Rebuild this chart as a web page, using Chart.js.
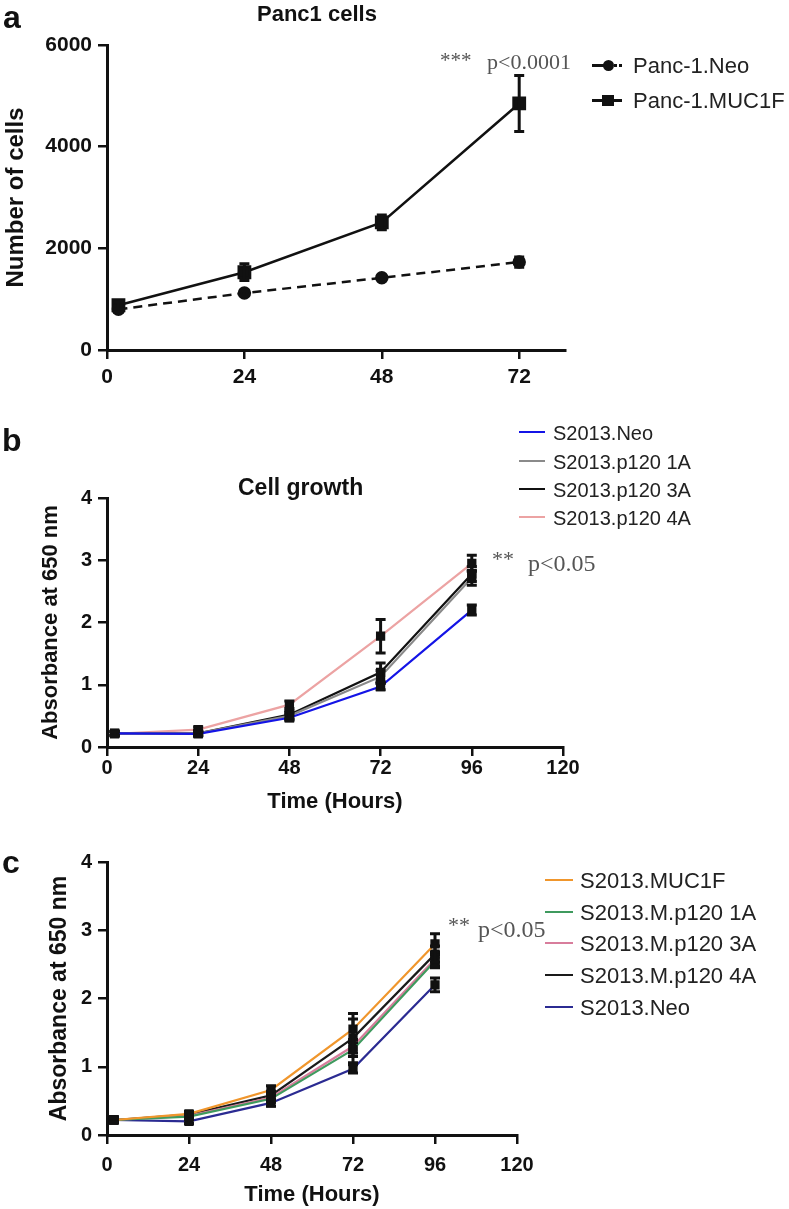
<!DOCTYPE html>
<html>
<head>
<meta charset="utf-8">
<script src="https://cdn.jsdelivr.net/npm/chart.js@4.4.1/dist/chart.umd.min.js"></script>
<style>
  body { margin: 0; background: #fff; width: 789px; height: 1209px; position: relative; overflow: hidden;
         font-family: "Liberation Sans", Arial, sans-serif; color: #111; }
  canvas { position: absolute; left: 0; }
  .t { position: absolute; white-space: nowrap; line-height: 1; transform: translateY(-50%); }
  .b { font-weight: bold; }
  .serif { font-family: "Liberation Serif", "Times New Roman", serif; color: #555; }
  .sw { position: absolute; height: 0; }
  .mk { position: absolute; background: #111; }
</style>
</head>
<body>
<canvas id="chartA" width="789" height="400" style="top:0"></canvas>
<canvas id="chartB" width="789" height="420" style="top:400px"></canvas>
<canvas id="chartC" width="789" height="389" style="top:820px"></canvas>

<!-- panel a labels -->
<div class="t b" style="left:3px;top:17px;font-size:32px">a</div>
<div class="t b" style="left:257px;top:14px;font-size:22px">Panc1 cells</div>
<div class="t serif" style="left:440px;top:60px;font-size:21px">***</div>
<div class="t serif" style="left:487px;top:62px;font-size:22px">p&lt;0.0001</div>
<div class="sw" style="left:592px;top:64px;width:16px;border-top:3px solid #111"></div>
<div class="sw" style="left:609px;top:64px;width:13px;border-top:3px dotted #111"></div>
<div class="mk" style="left:603px;top:60px;width:11px;height:11px;border-radius:50%"></div>
<div class="t" style="left:633px;top:66px;font-size:22px;color:#222">Panc-1.Neo</div>
<div class="sw" style="left:592px;top:99px;width:30px;border-top:3px solid #111"></div>
<div class="mk" style="left:602px;top:95px;width:12px;height:11px"></div>
<div class="t" style="left:633px;top:101px;font-size:22px;color:#222">Panc-1.MUC1F</div>

<!-- panel b labels -->
<div class="t b" style="left:2px;top:440px;font-size:32px">b</div>
<div class="t b" style="left:238px;top:487px;font-size:23px">Cell growth</div>
<div id="legendB"></div>
<div class="t serif" style="left:492px;top:559px;font-size:22px">**</div>
<div class="t serif" style="left:528px;top:563px;font-size:24px">p&lt;0.05</div>

<!-- panel c labels -->
<div class="t b" style="left:2px;top:862px;font-size:32px">c</div>
<div id="legendC"></div>
<div class="t serif" style="left:448px;top:925px;font-size:22px">**</div>
<div class="t serif" style="left:478px;top:929px;font-size:24px">p&lt;0.05</div>

<script>
// ---- panel a: Panc1 cells ----
const hoursA = [2, 24, 48, 72];
const xTicksA = [0, 24, 48, 72];
const panc1Neo = [800, 1120, 1420, 1730];
const panc1NeoErr = [60, 50, 40, 100];
const panc1Muc = [880, 1530, 2510, 4850];
const panc1MucErr = [70, 165, 145, 550];

// ---- panel b: S2013 p120 ----
const hoursBC = [2, 24, 48, 72, 96];
const xTicksBC = [0, 24, 48, 72, 96, 120];
const bNames = ['S2013.Neo', 'S2013.p120 1A', 'S2013.p120 3A', 'S2013.p120 4A'];
const bColors = ['#1414e6', '#8a8a8a', '#111111', '#eca3a3'];
const bNeo = [0.22, 0.21, 0.47, 0.97, 2.2];
const bNeoErr = [0.03, 0.03, 0.05, 0.05, 0.08];
const b1A = [0.22, 0.22, 0.5, 1.13, 2.72];
const b1AErr = [0.03, 0.03, 0.06, 0.1, 0.12];
const b3A = [0.22, 0.22, 0.52, 1.2, 2.78];
const b3AErr = [0.03, 0.04, 0.06, 0.15, 0.12];
const b4A = [0.21, 0.28, 0.68, 1.78, 2.95];
const b4AErr = [0.03, 0.04, 0.06, 0.27, 0.13];

// ---- panel c: S2013 MUC1F p120 ----
const cNames = ['S2013.MUC1F', 'S2013.M.p120 1A', 'S2013.M.p120 3A', 'S2013.M.p120 4A', 'S2013.Neo'];
const cColors = ['#f0962c', '#3f9a5e', '#d87d9c', '#1a1a1a', '#2b2b92'];
const cMuc = [0.22, 0.31, 0.66, 1.55, 2.8];
const cMucErr = [0.03, 0.03, 0.06, 0.15, 0.15];
const c1A = [0.22, 0.27, 0.53, 1.25, 2.55];
const c1AErr = [0.03, 0.03, 0.05, 0.1, 0.1];
const c3A = [0.22, 0.28, 0.55, 1.3, 2.58];
const c3AErr = [0.03, 0.03, 0.05, 0.1, 0.1];
const c4A = [0.22, 0.3, 0.58, 1.42, 2.65];
const c4AErr = [0.03, 0.04, 0.06, 0.36, 0.12];
const cNeo = [0.22, 0.2, 0.47, 0.97, 2.2];
const cNeoErr = [0.03, 0.03, 0.05, 0.06, 0.1];

const ink = '#111';
const pts = (xs, ys) => xs.map((x, i) => ({ x, y: ys[i] }));

const errorBars = {
  id: 'errorBars',
  afterDatasetsDraw(chart, args, opts) {
    const { ctx, scales: { x, y } } = chart;
    ctx.save();
    ctx.strokeStyle = ink;
    ctx.lineWidth = opts.width || 2.5;
    const cap = opts.cap || 5;
    chart.data.datasets.forEach((ds) => {
      if (!ds.errors) return;
      ds.data.forEach((p, j) => {
        const e = ds.errors[j];
        const px = x.getPixelForValue(p.x);
        const top = y.getPixelForValue(p.y + e);
        const bot = y.getPixelForValue(p.y - e);
        ctx.beginPath();
        ctx.moveTo(px, top); ctx.lineTo(px, bot);
        ctx.moveTo(px - cap, top); ctx.lineTo(px + cap, top);
        ctx.moveTo(px - cap, bot); ctx.lineTo(px + cap, bot);
        ctx.stroke();
      });
    });
    ctx.restore();
  }
};

function axisX(min, max, tickVals, fit, title, titlePad, tickPad, tickSize) {
  return {
    type: 'linear', min, max,
    afterBuildTicks: (s) => { s.ticks = tickVals.map((v) => ({ value: v })); },
    afterFit: (s) => { s.height = fit; },
    ticks: { color: ink, font: { family: 'Liberation Sans', weight: 'bold', size: tickSize }, padding: tickPad, maxRotation: 0,
             callback: (v) => String(v) },
    grid: { drawOnChartArea: false, color: ink, lineWidth: 2.5, tickLength: 9 },
    border: { color: ink, width: 3 },
    title: title ? { display: true, text: title, color: ink, font: { family: 'Liberation Sans', weight: 'bold', size: 22 }, padding: { top: 0, bottom: titlePad } } : { display: false }
  };
}

function axisY(min, max, step, fit, title, titleSize, tickSize) {
  return {
    min, max,
    afterFit: (s) => { s.width = fit; },
    ticks: { stepSize: step, color: ink, font: { family: 'Liberation Sans', weight: 'bold', size: tickSize }, padding: 6,
             callback: (v) => String(v) },
    grid: { drawOnChartArea: false, color: ink, lineWidth: 2.5, tickLength: 9 },
    border: { color: ink, width: 3 },
    title: { display: true, text: title, color: ink, font: { family: 'Liberation Sans', weight: 'bold', size: titleSize }, padding: { top: 2, bottom: 0 } }
  };
}

const baseOpts = {
  responsive: false,
  animation: false,
  devicePixelRatio: 1,
  plugins: { legend: { display: false }, tooltip: { enabled: false } }
};

// panel a
new Chart(document.getElementById('chartA'), {
  type: 'line',
  data: {
    datasets: [
      { label: 'Panc-1.Neo', data: pts(hoursA, panc1Neo), errors: panc1NeoErr, borderColor: ink, borderWidth: 2.5,
        borderDash: [9, 6], pointStyle: 'circle', pointRadius: 5.5, pointBackgroundColor: ink, pointBorderColor: ink },
      { label: 'Panc-1.MUC1F', data: pts(hoursA, panc1Muc), errors: panc1MucErr, borderColor: ink, borderWidth: 2.5,
        pointStyle: 'rect', pointRadius: 8, pointBackgroundColor: ink, pointBorderColor: ink }
    ]
  },
  options: {
    ...baseOpts,
    layout: { padding: { left: 0, top: 45, right: 224, bottom: 0 } },
    scales: {
      x: axisX(0, 80, xTicksA, 50, null, 0, 6, 21),
      y: axisY(0, 6000, 2000, 107, 'Number of cells', 24, 21)
    },
    plugins: { ...baseOpts.plugins, errorBars: { width: 3, cap: 5 } }
  },
  plugins: [errorBars]
});

function growthSets(series, errs, colors, names) {
  return series.map((s, i) => ({
    label: names[i], data: pts(hoursBC, s), errors: errs[i],
    borderColor: colors[i], borderWidth: 2.2,
    pointStyle: 'rect', pointRadius: 5, pointBackgroundColor: ink, pointBorderColor: ink
  }));
}

// panel b
new Chart(document.getElementById('chartB'), {
  type: 'line',
  data: { datasets: growthSets([bNeo, b1A, b3A, b4A], [bNeoErr, b1AErr, b3AErr, b4AErr], bColors, bNames) },
  options: {
    ...baseOpts,
    layout: { padding: { left: 36, top: 98, right: 226, bottom: 0 } },
    scales: {
      x: axisX(0, 120, xTicksBC, 73, 'Time (Hours)', 5, 0, 20),
      y: axisY(0, 4, 1, 71, 'Absorbance at 650 nm', 22, 20)
    },
    plugins: { ...baseOpts.plugins, errorBars: { width: 3, cap: 5 } }
  },
  plugins: [errorBars]
});

// panel c
new Chart(document.getElementById('chartC'), {
  type: 'line',
  data: { datasets: growthSets([cMuc, c1A, c3A, c4A, cNeo], [cMucErr, c1AErr, c3AErr, c4AErr, cNeoErr], cColors, cNames) },
  options: {
    ...baseOpts,
    layout: { padding: { left: 44, top: 42, right: 272, bottom: 0 } },
    scales: {
      x: axisX(0, 120, xTicksBC, 74, 'Time (Hours)', 1, 9, 20),
      y: axisY(0, 4, 1, 63, 'Absorbance at 650 nm', 23, 20)
    },
    plugins: { ...baseOpts.plugins, errorBars: { width: 3, cap: 5 } }
  },
  plugins: [errorBars]
});

// html legends for b and c
function buildLegend(el, names, colors, rows, swLeft, swWidth, textLeft, size) {
  names.forEach((n, i) => {
    const sw = document.createElement('div');
    sw.className = 'sw';
    sw.style.cssText = `left:${swLeft}px;top:${rows[i] - 1}px;width:${swWidth}px;border-top:2.5px solid ${colors[i]}`;
    el.appendChild(sw);
    const tx = document.createElement('div');
    tx.className = 't';
    tx.style.cssText = `left:${textLeft}px;top:${rows[i] + 1}px;font-size:${size}px;color:#222`;
    tx.textContent = n;
    el.appendChild(tx);
  });
}
buildLegend(document.getElementById('legendB'), bNames, bColors, [432, 461, 489, 517], 519, 26, 553, 20);
buildLegend(document.getElementById('legendC'), cNames, cColors, [880, 912, 943, 975, 1007], 545, 28, 580, 22);
</script>
</body>
</html>
